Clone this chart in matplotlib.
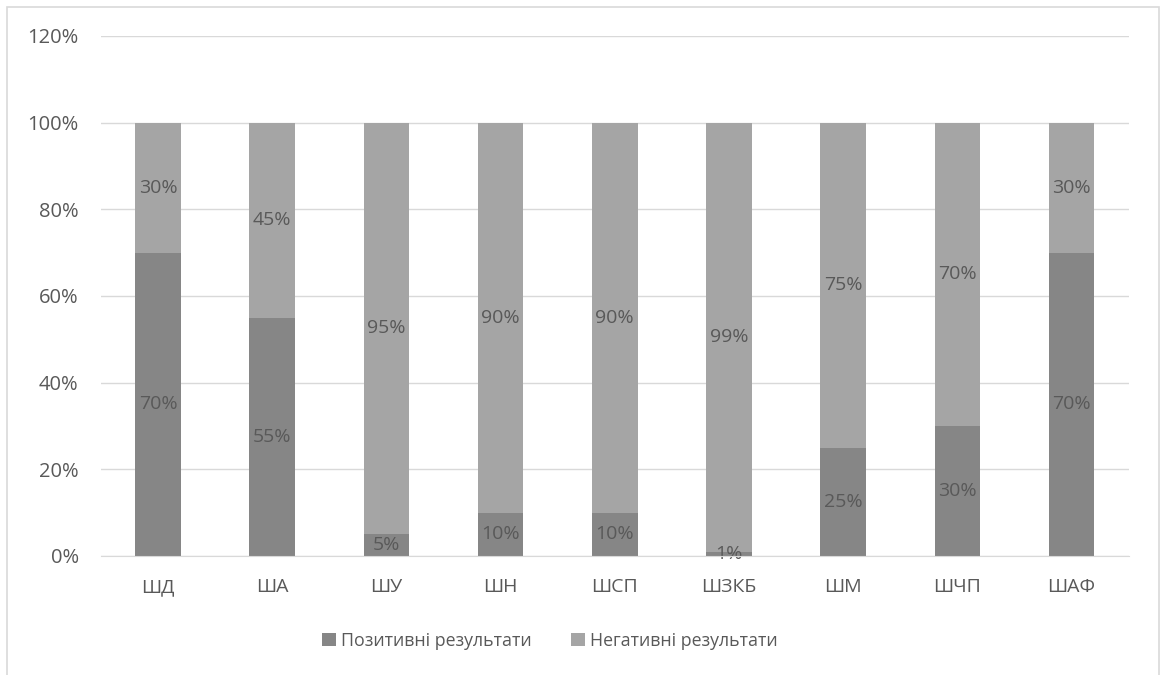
import matplotlib
matplotlib.use("Agg")
import matplotlib.pyplot as plt
from matplotlib.patches import Rectangle
from matplotlib.ticker import PercentFormatter

plt.rcParams['font.family'] = ['Open Sans', 'DejaVu Sans']

categories = ["ШД", "ША", "ШУ", "ШН", "ШСП", "ШЗКБ", "ШМ", "ШЧП", "ШАФ"]
positive = [70, 55, 5, 10, 10, 1, 25, 30, 70]
negative = [30, 45, 95, 90, 90, 99, 75, 70, 30]

dark = '#868686'
light = '#a5a5a5'
text_color = '#595959'
grid_color = '#d9d9d9'

fig = plt.figure(figsize=(11.6, 6.75), dpi=100)
ax = fig.add_axes([0.087, 0.1763, 0.886, 0.7704])

x = range(len(categories))
b1 = ax.bar(x, positive, width=0.4, color=dark, label='Позитивні результати', zorder=2)
b2 = ax.bar(x, negative, width=0.4, bottom=positive, color=light, label='Негативні результати', zorder=2)

for bars in (b1, b2):
    ax.bar_label(bars, labels=[f"{int(round(b.get_height()))}%" for b in bars],
                 label_type='center', color=text_color, fontsize=14)

ax.set_ylim(0, 120)
ax.set_xlim(-0.5, len(categories) - 0.5)
ax.set_yticks(range(0, 121, 20))
ax.yaxis.set_major_formatter(PercentFormatter(decimals=0))
ax.set_xticks(list(x))
ax.set_xticklabels(categories)
ax.tick_params(axis='both', length=0, labelcolor=text_color)
ax.tick_params(axis='x', pad=16, labelsize=14)
ax.tick_params(axis='y', pad=16, labelsize=14.5)
ax.grid(axis='y', color=grid_color, linewidth=1, zorder=0)
for side in ('left', 'right', 'top'):
    ax.spines[side].set_visible(False)
ax.spines['bottom'].set_color(grid_color)
ax.spines['bottom'].set_zorder(3)

fig.legend(handles=[b1, b2], loc='center', bbox_to_anchor=(0.474, 0.051), ncol=2,
           frameon=False, fontsize=12.8, labelcolor=text_color, handlelength=0.8,
           handleheight=0.8, handletextpad=0.3, columnspacing=2.2)

# light frame around the whole chart
fig.patches.append(Rectangle((7 / 1160, -0.1), 1152 / 1160, 1.1 - 7 / 675,
                             transform=fig.transFigure, fill=False,
                             edgecolor=grid_color, linewidth=1.2))

fig.savefig('out.png', dpi=100)
